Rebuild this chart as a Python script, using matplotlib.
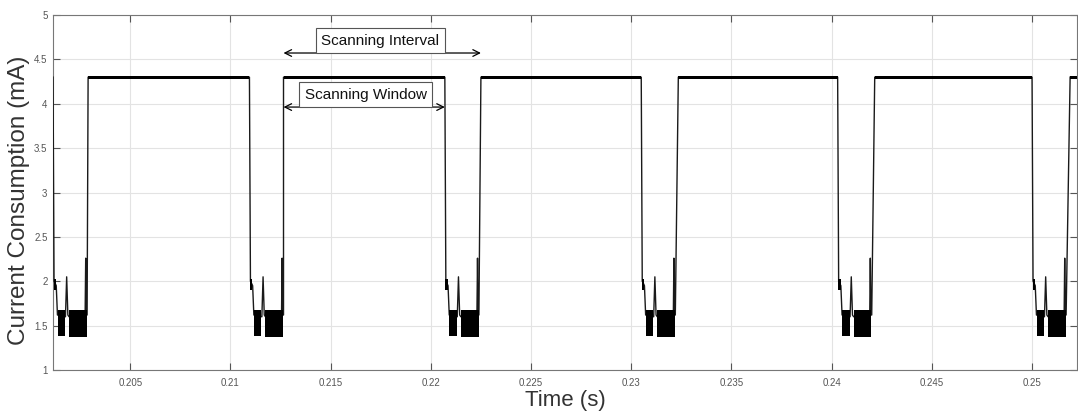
import numpy as np
import matplotlib
matplotlib.use("Agg")
import matplotlib.pyplot as plt

# ---- data ----
fall_times = [0.20115, 0.21095, 0.2207, 0.2305, 0.2403, 0.2500]
rise_times = [0.2029, 0.21265, 0.2225, 0.23235, 0.24215, 0.2519]
high_level = 4.30
high_noise = 0.018
# low-phase shape, offsets (s) after each falling edge and current (mA)
low_offsets = [0.0, 0.00005, 0.00012, 0.00016, 0.00022, 0.00062, 0.00068, 0.00074, 0.0008, 0.00160, 0.00163, 0.00166, 0.00170]
low_values  = [4.30, 2.00, 1.97, 1.95, 1.62, 1.60, 2.05, 1.62, 1.60, 1.60, 2.26, 1.62, 1.62]
# noisy bands (offset start, offset end, min, max)
band_start = [0.00023, 0.00080]
band_end   = [0.00060, 0.00168]
band_min   = [1.38, 1.37]
band_max   = [1.68, 1.68]
blip_start, blip_end, blip_min, blip_max = 0.00003, 0.00015, 1.90, 2.03

xlim = (0.20115, 0.25225)
ylim = (1, 5)
xticks = [0.205, 0.21, 0.215, 0.22, 0.225, 0.23, 0.235, 0.24, 0.245, 0.25]
xticklabels = ["0.205", "0.21", "0.215", "0.22", "0.225", "0.23", "0.235", "0.24", "0.245", "0.25"]
yticks = [1, 1.5, 2, 2.5, 3, 3.5, 4, 4.5, 5]
yticklabels = ["1", "1.5", "2", "2.5", "3", "3.5", "4", "4.5", "5"]

interval_span = (0.21265, 0.2225)
interval_y = 4.572
interval_label_x = 0.21748
window_span = (0.21265, 0.2207)
window_y = 3.963
window_label_x = 0.21675

plt.rcParams['font.family'] = ['Liberation Sans', 'DejaVu Sans']

fig = plt.figure(figsize=(10.78, 4.15), dpi=100)
ax = fig.add_axes([0.0492, 0.1084, 0.95, 0.8554])

# build trace from edges
t = []
v = []
for i, tf in enumerate(fall_times):
    if i > 0:
        t.append(rise_times[i - 1] + 0.00002)
        v.append(high_level)
    for o, val in zip(low_offsets, low_values):
        t.append(tf + o)
        v.append(val)
    t.append(rise_times[i])
    v.append(high_level)
ax.plot(t, v, color='#1a1a1a', lw=1.0, zorder=3)

# high-level noise band
for i in range(len(fall_times) - 1):
    ax.fill_between([rise_times[i], fall_times[i + 1]],
                    high_level - high_noise, high_level + high_noise,
                    color='black', lw=0, zorder=3)
ax.fill_between([rise_times[-1], xlim[1]], high_level - high_noise,
                high_level + high_noise, color='black', lw=0, zorder=3)

# low noisy bands
for tf in fall_times:
    for bs, be, bmn, bmx in zip(band_start, band_end, band_min, band_max):
        ax.fill_between([tf + bs, tf + be], bmn, bmx, color='black', lw=0, zorder=3)
    ax.fill_between([tf + blip_start, tf + blip_end], blip_min, blip_max,
                    color='black', lw=0, zorder=3)

ax.set_xlim(*xlim)
ax.set_ylim(*ylim)
ax.set_xticks(xticks)
ax.set_xticklabels(xticklabels)
ax.set_yticks(yticks)
ax.set_yticklabels(yticklabels)
ax.grid(True, color='#e3e3e3', lw=0.8)
ax.set_axisbelow(True)
ax.tick_params(direction='in', length=5, width=0.8, colors='#555555',
               labelsize=7, top=True, right=True)
ax.tick_params(axis='y', pad=4)
ax.tick_params(axis='x', pad=6)
for s in ax.spines.values():
    s.set_color('#777777')
    s.set_linewidth(0.8)

ax.set_xlabel('Time (s)', fontsize=16, color='#333333', labelpad=1)
ax.set_ylabel('Current Consumption (mA)', fontsize=17.5, color='#333333')
ax.yaxis.set_label_coords(-0.0225, 0.478)

# annotations
arrowprops = dict(arrowstyle='<->', color='black', lw=0.9,
                  shrinkA=0, shrinkB=0, mutation_scale=12)
box = dict(boxstyle='square,pad=0.35', fc='white', ec='#555555', lw=0.8)
ax.annotate('', xy=(interval_span[0], interval_y), xytext=(interval_span[1], interval_y),
            arrowprops=arrowprops, zorder=5)
ax.annotate('Scanning Interval', xy=(interval_label_x, interval_y), xytext=(0, 3.85),
            textcoords='offset points', ha='center', va='bottom',
            fontsize=11, color='#111111', zorder=6, bbox=box)
ax.annotate('', xy=(window_span[0], window_y), xytext=(window_span[1], window_y),
            arrowprops=arrowprops, zorder=5)
ax.annotate('Scanning Window', xy=(window_label_x, window_y), xytext=(0, 3.85),
            textcoords='offset points', ha='center', va='bottom',
            fontsize=11, color='#111111', zorder=6, bbox=box)

fig.savefig('out.png', dpi=100)
